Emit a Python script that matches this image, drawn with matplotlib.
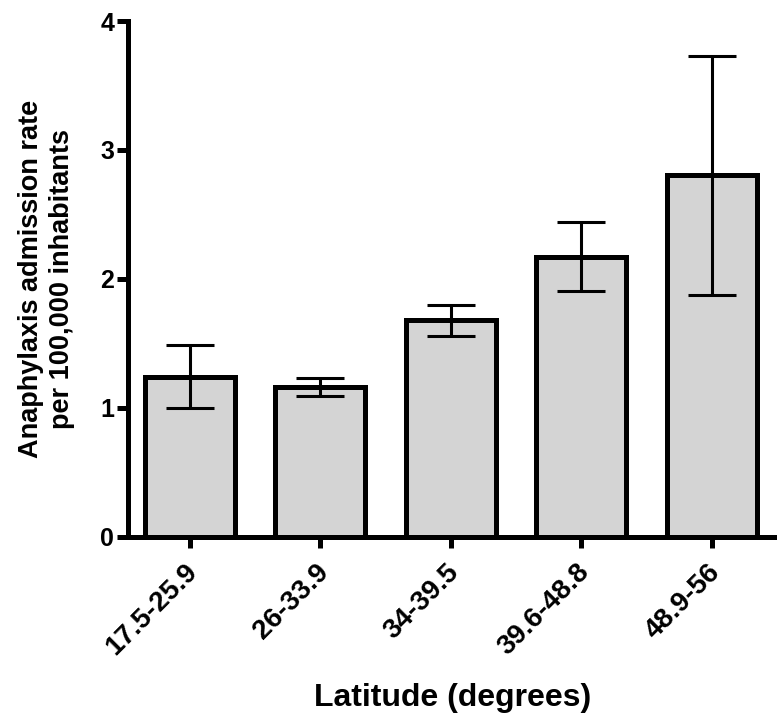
import matplotlib
matplotlib.use("Agg")
import matplotlib.pyplot as plt
import matplotlib.transforms as mtransforms
import numpy as np

# latitude bands and admission rate (per 100,000) with error bar ends
categories = ["17.5-25.9", "26-33.9", "34-39.5", "39.6-48.8", "48.9-56"]
rates = [1.24, 1.165, 1.68, 2.17, 2.81]
err_upper = [1.485, 1.23, 1.80, 2.44, 3.73]
err_lower = [1.00, 1.095, 1.555, 1.905, 1.875]
yticks = [0, 1, 2, 3, 4]

plt.rcParams["font.family"] = ["Liberation Sans", "DejaVu Sans"]
plt.rcParams["font.weight"] = "bold"

fig = plt.figure(figsize=(7.77, 7.13), dpi=100)
ax = fig.add_axes([0.165, 0.247, 0.835, 0.7235])

x = np.arange(len(categories))
rates = np.array(rates)
yerr = np.vstack([rates - np.array(err_lower), np.array(err_upper) - rates])

ax.bar(x, rates, width=0.69, color="#d4d4d4", edgecolor="black",
       linewidth=3.6, zorder=2)
ax.errorbar(x, rates, yerr=yerr, fmt="none", ecolor="black",
            elinewidth=2.2, capsize=17, capthick=2.2, zorder=3)

ax.set_xlim(-0.47, 4.5)
ax.set_ylim(0, 4)
ax.set_yticks(yticks)
ax.set_xticks(x)
ax.set_xticklabels(categories, rotation=45, ha="right",
                   rotation_mode="anchor")

for s in ["top", "right"]:
    ax.spines[s].set_visible(False)
for s in ["left", "bottom"]:
    ax.spines[s].set_linewidth(3.6)
    ax.spines[s].set_capstyle("projecting")

ax.tick_params(axis="both", width=3.6, length=8)
ax.tick_params(axis="x", pad=8, labelsize=20)
ax.tick_params(axis="y", pad=2, labelsize=18)

# nudge rotated category labels a little to the left, under the tick
shift = mtransforms.ScaledTranslation(-5 / 100, 0, fig.dpi_scale_trans)
for lab in ax.get_xticklabels():
    lab.set_transform(lab.get_transform() + shift)

ax.set_ylabel("Anaphylaxis admission rate\nper 100,000 inhabitants",
              fontsize=19.5, fontweight="bold", labelpad=18, linespacing=1.25)
ax.set_xlabel("Latitude (degrees)", fontsize=23, fontweight="bold",
              labelpad=16)

fig.savefig("out.png", dpi=100)
